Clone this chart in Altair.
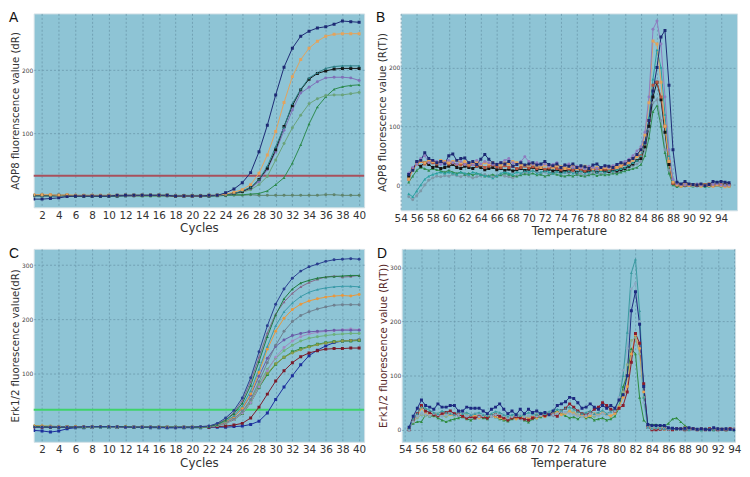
import altair as alt
import pandas as pd

# ---------------- axes positions ----------------
cycles = list(range(1, 41))
temps_b = [55 + 0.5 * i for i in range(81)]
temps_d = [54.5 + 0.5 * i for i in range(80)]

# ---------------- Panel A: AQP8 amplification ----------------
A_navy = [-4,-4,-3,-2,0,1,1,1,1,1, 2,2,2,2,2,2,2,1,1,1, 1,2,2,6,12,22,38,71,113,161, 205,235,254,262,267,269,273,278,277,276]
A_orange = [3,3,3,2,3,2,2,2,2,2, 2,2,2,2,2,2,2,1,1,1, 1,2,2,4,7,11,19,37,66,103, 149,190,217,235,246,254,257,258,258,258]
A_teal = [1,1,1,1,1,1,1,1,1,1, 1,1,2,2,2,2,2,1,1,1, 1,1,2,3,5,9,15,27,48,79, 110,147,170,188,196,203,206,207,207,207]
A_black = [2,2,2,2,2,1,1,1,1,1, 1,2,2,2,2,2,2,0,1,1, 1,1,2,3,5,8,14,27,45,74, 111,144,169,186,195,199,202,203,203,203]
A_purple = [1,1,1,1,1,1,1,1,1,1, 1,1,1,2,2,2,1,1,1,1, 1,1,2,3,5,8,13,24,43,71, 105,137,164,173,182,188,189,189,188,184]
A_olive = [1,1,1,1,1,1,1,1,1,1, 1,1,1,1,1,1,1,1,1,1, 1,1,2,3,4,7,11,19,32,58, 84,109,129,147,155,160,161,161,163,165]
A_green = [1,1,1,1,1,1,1,1,1,1, 1,1,1,1,1,1,1,1,1,1, 1,1,1,2,3,3,4,5,9,19, 30,53,82,115,142,158,170,174,176,177]
A_flat = [2,2,2,2,2,2,2,2,2,2, 2,2,2,2,2,2,2,2,2,2, 2,2,2,2,2,2,3,2,2,2, 2,2,2,2,2,3,3,2,2,2]
A_threshold = 33

# ---------------- Panel B: AQP8 melt ----------------
B_navy = [18,25,40,42,55,45,42,38,40,36, 50,53,42,45,46,38,40,35,44,52, 44,38,35,38,36,40,32,35,38,34,
          36,38,34,36,40,35,33,36,30,34, 32,36,30,33,31,28,34,36,30,33, 32,30,35,38,36,42,45,52,60,72,
          110,160,200,252,263,170,60,5,2,6, 2,1,0,2,-1,1,6,5,6,5, 4]
B_lavender = [20,30,35,45,50,38,42,40,35,38, 42,38,36,40,35,38,34,42,36,40, 38,35,36,38,42,45,38,35,40,48,
              40,36,38,34,36,32,35,38,30,34, 36,30,32,30,28,32,30,28,30,32, 30,33,35,38,40,44,50,58,65,90,
              150,265,279,240,150,60,10,2,1,0, 1,0,2,0,-1,0,1,2,0,-1, 0]
B_orange = [10,25,35,40,38,42,40,38,42,40, 38,40,42,38,40,36,38,40,35,38, 36,38,35,34,38,36,40,38,35,33,
            34,36,32,30,34,32,30,33,31,28, 30,32,28,30,32,30,28,30,27,30, 29,31,30,33,36,38,42,48,60,85,
            140,245,240,175,100,40,5,0,-2,0, -1,0,1,-2,0,-1,-2,0,-1,-3, -2]
B_teal = [-15,-20,-10,0,10,15,18,20,22,20, 22,20,18,22,20,18,22,20,18,16, 15,12,16,20,22,20,18,22,20,24,
          22,25,20,22,24,22,20,23,20,22, 24,20,22,24,20,22,25,22,24,22, 25,24,26,28,30,34,38,42,50,70,
          115,180,230,200,120,50,8,1,0,2, 0,-1,1,0,-2,0,1,-1,0,1, 0]
B_black = [15,28,35,32,38,35,30,32,28,30, 32,35,30,28,32,30,28,32,30,26, 28,30,26,28,25,27,24,26,28,25,
           27,30,26,28,25,27,24,26,23,25, 24,26,22,25,23,24,26,22,25,24, 23,25,24,26,28,32,36,42,45,65,
           100,150,175,145,90,35,3,0,1,-1, 0,1,-1,0,1,-1,0,2,0,1, 0]
B_red = [10,28,38,40,36,40,38,36,40,38, 36,38,35,34,36,33,35,32,34,30, 32,34,31,30,33,30,32,28,30,32,
         29,31,28,30,27,29,31,28,26,29, 27,25,28,26,24,27,25,28,26,27, 25,28,30,32,35,40,45,50,50,70,
         110,170,175,150,100,40,3,1,0,2, 1,0,-1,1,0,2,0,-1,1,0, 1]
B_green = [5,15,25,30,28,25,28,26,24,22, 25,22,20,22,18,20,17,20,18,15, 16,18,15,17,20,18,16,15,17,19,
           18,20,17,18,15,17,20,18,16,15, 17,15,18,16,15,17,19,16,18,17, 18,20,19,22,24,26,28,30,35,50,
           80,125,135,100,55,20,0,-3,-2,0, -1,-2,0,-1,-3,-2,-1,0,-2,-1, -2]
B_gray = [-20,-25,-18,-10,0,8,12,15,14,16, 15,18,16,14,17,15,12,14,16,18, 15,13,16,18,15,14,12,16,18,22,
          20,24,22,20,22,18,20,22,19,21, 20,22,18,20,16,18,20,22,19,21, 22,20,23,25,27,30,33,36,40,60,
          95,140,145,110,60,25,2,-1,0,-2, 0,-1,-2,0,-1,0,-2,-1,0,-2, -1]

# ---------------- Panel C: Erk1/2 amplification ----------------
C_navy = [1,1,1,1,1,1,2,2,2,2, 2,1,1,1,1,1,0,0,1,1, 2,3,8,18,32,55,92,140,188,228, 256,276,289,297,302,307,310,311,312,311]
C_dkgreen = [2,2,1,1,1,1,1,2,2,2, 2,2,1,1,1,1,1,1,1,1, 1,2,6,14,26,45,78,122,168,208, 238,256,267,272,276,278,279,280,281,281]
C_mauve = [3,2,2,2,2,1,1,1,2,2, 2,2,1,1,1,1,1,1,1,1, 2,3,7,15,28,50,85,130,175,210, 232,248,260,268,274,278,280,278,279,281]
C_teal = [2,2,2,2,2,1,1,1,1,1, 2,2,1,1,1,1,1,1,1,1, 1,2,5,12,22,40,68,108,150,188, 214,230,242,250,255,258,260,261,261,260]
C_orange = [3,3,2,2,2,2,2,2,2,2, 2,2,1,1,1,1,1,0,1,1, 1,2,5,11,20,36,62,102,145,178, 202,218,228,234,238,241,243,244,243,246]
C_gray = [2,2,2,2,2,1,1,1,1,1, 1,1,1,1,1,1,1,1,1,1, 1,2,4,9,17,30,52,85,120,152, 178,196,207,214,219,223,226,227,227,227]
C_purple = [2,2,2,2,2,1,1,1,1,1, 1,1,1,1,1,1,1,1,1,1, 1,2,5,11,20,35,60,95,128,150, 162,170,174,177,178,179,180,180,180,180]
C_lilac = [2,2,2,2,2,1,1,1,1,1, 1,1,1,1,1,1,1,1,1,1, 1,2,4,8,15,27,46,75,105,130, 148,160,168,173,176,178,179,181,182,181]
C_ltgreen = [2,2,2,2,2,1,1,1,1,1, 1,1,1,1,1,1,1,1,1,1, 1,2,4,9,16,28,50,80,108,128, 142,152,160,165,168,170,172,173,174,174]
C_olive = [4,3,3,2,2,2,2,2,2,2, 2,2,1,1,1,1,1,1,1,1, 1,2,4,8,15,27,48,76,100,118, 130,138,144,149,153,156,158,160,161,162]
C_green = [2,2,2,2,2,1,1,1,1,1, 1,1,1,1,1,1,1,1,1,1, 1,2,4,8,15,26,46,74,98,117, 130,140,146,150,154,157,159,160,160,161]
C_maroon = [1,1,1,1,1,1,1,1,1,1, 1,1,1,1,1,1,1,1,1,1, 1,1,2,3,5,8,18,38,62,86, 105,120,131,138,142,145,146,146,147,147]
C_blue = [-5,-6,-8,-6,-2,0,0,1,1,1, 1,1,1,1,0,0,0,0,0,0, 0,1,1,1,2,3,6,12,27,52, 75,96,116,133,143,151,157,160,161,162]
C_threshold = 33

# ---------------- Panel D: Erk1/2 melt ----------------
D_navy = [5,25,40,55,45,42,38,48,42,42, 45,45,35,35,42,40,40,40,35,30, 38,42,48,38,30,35,28,38,30,38,
          32,35,30,32,28,35,45,48,52,60, 58,50,40,42,48,42,38,45,40,45, 40,55,65,100,220,255,195,80,10,8,
          8,8,8,4,3,2,2,3,4,2, 1,2,1,0,4,2,1,2,1,0]
D_teal = [3,20,30,42,40,36,32,30,35,32, 30,28,34,30,32,28,30,32,28,26, 30,34,32,28,25,28,30,26,28,32,
          30,28,32,30,34,36,38,36,40,42, 38,34,30,32,35,30,32,36,30,34, 38,55,100,180,290,315,220,60,5,3,
          4,3,2,3,2,1,2,1,0,2, 1,0,2,1,0,3,1,2,1,0]
D_ltblue = [0,15,25,30,28,26,30,28,25,28, 30,26,28,32,25,27,30,24,26,28, 25,28,30,26,22,24,26,28,24,26,
            28,25,27,30,32,28,30,34,32,30, 28,26,24,26,30,28,26,30,28,32, 35,60,110,150,260,270,200,50,4,2,
            3,2,2,1,2,1,0,2,1,0, 1,0,1,0,2,1,0,1,0,1]
D_maroon = [0,18,30,45,35,32,28,26,30,32, 35,30,28,25,22,24,22,25,24,22, 26,28,25,22,18,22,24,22,20,18,
            22,25,28,26,30,28,25,35,40,48, 42,35,30,28,32,38,42,50,45,38, 35,40,45,70,125,178,160,85,5,0,
            0,1,2,1,0,2,1,0,1,2, 0,1,0,2,1,0,1,0,2,1]
D_orange = [2,15,25,40,30,28,30,26,28,30, 28,26,30,25,22,24,26,22,25,24, 26,24,22,20,22,24,20,22,25,20,
            24,22,26,24,28,30,32,28,30,34, 30,26,28,24,26,30,28,32,28,26, 30,42,60,80,140,175,150,70,5,2,
            2,3,1,2,1,0,2,4,2,1, 0,2,1,0,1,2,0,1,2,1]
D_green = [5,12,15,15,28,25,26,22,18,15, 18,20,22,24,20,18,22,24,22,20, 26,24,20,18,16,20,22,24,18,14,
           20,22,24,26,28,32,35,30,26,22, 24,20,26,22,24,18,20,22,18,20, 25,40,80,100,150,140,60,18,10,10,
           10,8,6,12,20,22,15,8,3,2, 1,0,2,1,0,1,2,0,1,0]
D_ltgreen = [3,15,22,28,26,28,25,30,26,24, 28,25,30,32,28,25,27,24,26,25, 28,30,26,24,20,24,28,26,22,24,
             26,28,24,30,32,34,30,28,32,36, 32,28,25,22,26,24,28,30,28,24, 30,45,70,120,165,170,140,60,5,2,
             3,2,1,2,3,1,2,0,1,2, 1,0,1,2,0,1,0,2,1,0]


def make_panel(xs, series, xdom, ydom, xticks, yticks, xtitle, ytitle, letter,
               w, h, thresh=None, tcolor=None, ytcolor="#333333"):
    rows = []
    for name, (color, shape, vals) in series.items():
        for x, v in zip(xs, vals):
            rows.append({"x": x, "v": v, "s": name, "c": color, "m": shape})
    df = pd.DataFrame(rows)
    xenc = alt.X("x:Q", scale=alt.Scale(domain=xdom, nice=False, zero=False),
                 axis=alt.Axis(values=xticks, title=xtitle, grid=True, ticks=False, domain=False,
                               labelFontSize=10.5, labelColor="#333333", titleFontSize=12,
                               titleColor="#333333", titleFontWeight="normal", labelPadding=3,
                               titlePadding=2, format="d", labelFlush=False))
    yenc = alt.Y("v:Q", scale=alt.Scale(domain=ydom, nice=False, zero=False),
                 axis=alt.Axis(values=yticks, title=ytitle, grid=True, ticks=False, domain=False,
                               labelFontSize=6, labelColor="#444444", titleFontSize=10.3,
                               titleColor=ytcolor, titleFontWeight="normal", labelPadding=1,
                               titlePadding=1, format="d", labelFlush=False))
    layers = []
    if thresh is not None:
        layers.append(alt.Chart(pd.DataFrame({"v": [thresh]})).mark_rule(
            color=tcolor, strokeWidth=2).encode(y=yenc))
    base = alt.Chart(df)
    layers.append(base.mark_line(strokeWidth=1, clip=True).encode(
        x=xenc, y=yenc, color=alt.Color("c:N", scale=None), detail="s:N"))
    layers.append(base.mark_point(filled=True, size=9, opacity=1, clip=True).encode(
        x=xenc, y=yenc, color=alt.Color("c:N", scale=None), shape=alt.Shape("m:N", scale=None),
        detail="s:N"))
    layers.append(alt.Chart(pd.DataFrame({"t": [letter]})).mark_text(
        align="left", baseline="top", fontSize=14, font="Liberation Sans", color="#111111"
    ).encode(x=alt.value(-25), y=alt.value(-2), text="t:N"))
    return alt.layer(*layers).properties(width=w, height=h)


even_cycles = list(range(2, 41, 2))
even_temps = list(range(54, 95, 2))

panel_a = make_panel(cycles, {
    "flat": ("#5f846c", "circle", A_flat),
    "green": ("#2e8b4f", "triangle-up", A_green),
    "olive": ("#6aa37a", "circle", A_olive),
    "purple": ("#7f70b8", "circle", A_purple),
    "black": ("#151515", "square", A_black),
    "teal": ("#2b7d84", "triangle-up", A_teal),
    "orange": ("#e3a35c", "square", A_orange),
    "navy": ("#1d2a74", "square", A_navy),
}, [1.0, 40.6], [-17, 290], even_cycles, [100, 200], "Cycles",
    "AQP8 fluorenscence value (dR)", "A", 334, 196, A_threshold, "#a8505c")

panel_b = make_panel(temps_b, {
    "gray": ("#7d98a8", "circle", B_gray),
    "green": ("#2e8b4f", "triangle-up", B_green),
    "black": ("#151515", "square", B_black),
    "red": ("#b5553f", "square", B_red),
    "teal": ("#2aa0a0", "triangle-up", B_teal),
    "orange": ("#e3a35c", "square", B_orange),
    "lavender": ("#8e7cc0", "circle", B_lavender),
    "navy": ("#1d2a74", "square", B_navy),
}, [54, 96], [-43, 292], even_temps, [0, 100, 200], "Temperature",
    "AQP8 fluorescence value (R(T))", "B", 340, 199)

panel_c = make_panel(cycles, {
    "blue": ("#1c2f9c", "square", C_blue),
    "maroon": ("#7a1a2a", "square", C_maroon),
    "green": ("#2e8b3f", "square", C_green),
    "olive": ("#8c9a48", "circle", C_olive),
    "ltgreen": ("#6cb07c", "circle", C_ltgreen),
    "lilac": ("#a08ac4", "circle", C_lilac),
    "purple": ("#6a5aa8", "circle", C_purple),
    "gray": ("#6e8190", "circle", C_gray),
    "orange": ("#e8983e", "circle", C_orange),
    "teal": ("#3a9aa8", "triangle-up", C_teal),
    "mauve": ("#86688a", "triangle-up", C_mauve),
    "dkgreen": ("#1f7a3f", "triangle-up", C_dkgreen),
    "navy": ("#2a3f8f", "circle", C_navy),
}, [1.0, 40.6], [-26, 330], even_cycles, [100, 200, 300], "Cycles",
    "Erk1/2 fluorescence value(dR)", "C", 334, 195, C_threshold, "#3fd36a")

panel_d = make_panel(temps_d, {
    "ltgreen": ("#8ab08c", "circle", D_ltgreen),
    "green": ("#2e8b3f", "triangle-up", D_green),
    "orange": ("#e8a050", "circle", D_orange),
    "maroon": ("#8a1c2c", "square", D_maroon),
    "ltblue": ("#8aaac4", "circle", D_ltblue),
    "teal": ("#3a9aa0", "triangle-up", D_teal),
    "navy": ("#1d2a80", "square", D_navy),
}, [53.6, 94.1], [-22, 334], even_temps, [0, 100, 200, 300], "Temperature",
    "Erk1/2 fluorescence value (R(T))", "D", 337, 195, ytcolor="#5a2a2a")

chart = alt.vconcat(
    alt.hconcat(panel_a, panel_b, spacing=8),
    alt.hconcat(panel_c, panel_d, spacing=9),
    spacing=9,
).properties(padding=0).configure_view(
    fill="#8ec4d5", stroke="#d0e0e6", strokeWidth=1
).configure_axis(
    gridColor="#6a98ab", gridDash=[2, 2], gridOpacity=0.8,
    labelFont="DejaVu Sans", titleFont="DejaVu Sans"
)

chart.save("out.html", embed_options={"renderer": "svg", "actions": False})
